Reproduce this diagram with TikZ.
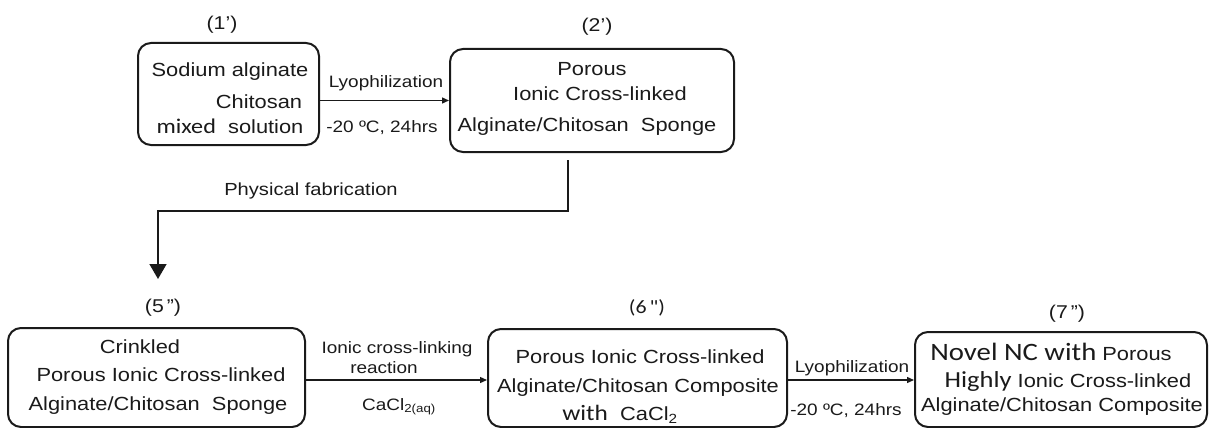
\documentclass[tikz,border=0pt]{standalone}
\usepackage{fontspec}
\setmainfont{Liberation Sans}[FakeStretch=1.15]
\newfontfamily\cb{Carlito}[FakeStretch=1.15]
\usetikzlibrary{arrows.meta}
\definecolor{ink}{HTML}{1A1A1A}
\begin{document}
\begin{tikzpicture}[x=1pt,y=-1pt,
  box/.style={draw=ink, line width=2pt, rounded corners=13pt, inner sep=0pt},
  txt/.style={inner sep=0pt, anchor=base, text=ink, font=\fontsize{19}{22}\selectfont},
  lbl/.style={inner sep=0pt, anchor=base, text=ink, font=\fontsize{16.5}{19}\selectfont},
  num/.style={inner sep=0pt, anchor=base, text=ink, font=\fontsize{18.5}{20}\selectfont},
  arr/.style={draw=ink, line width=1.3pt, -{Triangle[width=6pt,length=7pt]}},
  bigarr/.style={draw=ink, line width=1.5pt, -{Triangle[width=17pt,length=15pt]}}]
\useasboundingbox (0,0) rectangle (1210,428);
% boxes
\node[box, minimum width=181pt, minimum height=102pt] (b1) at (228.5,94) {};
\node[box, minimum width=284pt, minimum height=103pt] (b2) at (592,100.5) {};
\node[box, minimum width=297pt, minimum height=99pt] (b5) at (156.5,377.5) {};
\node[box, minimum width=299pt, minimum height=98pt] (b6) at (637.5,378) {};
\node[box, minimum width=292pt, minimum height=95pt] (b7) at (1061,379.5) {};
% numbers
\node[num] (n1) at (222,30) {(1')};
\node[num] (n2) at (597,32) {(2')};
\node[num] (n5) at (163,312) {(5\,")};
\node[num, font=\cb\fontsize{19}{20}\selectfont] (n6) at (647,313) {(6\,")};
\node[num] (n7) at (1067,318) {(7\,")};
% box 1
\node[txt] (t1a) at (230,77) {Sodium alginate};
\node[txt] (t1b) at (259,108) {Chitosan};
\node[txt] (t1c) at (230,133) {{\cb\fontsize{21}{22}\selectfont mixed}\ \ solution};
% box 2
\node[txt] (t2a) at (592,75) {Porous};
\node[txt] (t2b) at (600,100) {Ionic Cross-linked};
\node[txt] (t2c) at (587,131) {Alginate/Chitosan\ \ Sponge};
% box 5
\node[txt] (t5a) at (140,353) {Crinkled};
\node[txt] (t5b) at (161,381) {Porous Ionic Cross-linked};
\node[txt] (t5c) at (158,410) {Alginate/Chitosan\ \ Sponge};
% box 6
\node[txt] (t6a) at (640,363) {Porous Ionic Cross-linked};
\node[txt] (t6b) at (638,392) {Alginate/Chitosan Composite};
\node[txt] (t6c) at (620,420) {{\cb\fontsize{22}{22}\selectfont with}\ \ CaCl\textsubscript{2}};
% box 7
\node[txt] (t7a) at (1051,360) {{\cb\fontsize{25}{26}\selectfont Novel NC with}\ Porous};
\node[txt] (t7b) at (1068,387) {{\cb\fontsize{23}{24}\selectfont Highly}\ Ionic Cross-linked};
\node[txt] (t7c) at (1062,411) {Alginate/Chitosan Composite};
% arrows
\draw[arr] (b1.east |- b2.west) -- (b2.west);
\node[lbl] (l1a) at (386,88) {Lyophilization};
\node[lbl] (l1b) at (382,132) {-20 ºC, 24hrs};
\coordinate (ps) at (568,160);
\coordinate (pc) at (568,211);
\coordinate (pf) at (158,279);
\draw[bigarr] (ps) -- (pc) -| (pf);
\node[lbl, font=\fontsize{17.5}{19}\selectfont] (lpf) at (311,195) {Physical fabrication};
\draw[arr] (b5.east |- 0,380) -- (b6.west |- 0,380);
\node[lbl] (l5a) at (397,353) {Ionic cross-linking};
\node[lbl] (l5b) at (384,373) {reaction};
\node[lbl] (l5c) at (399,410) {CaCl\textsubscript{2(aq)}};
\draw[arr] (b6.east |- 0,380) -- (b7.west |- 0,380);
\node[lbl] (l6a) at (852,372) {Lyophilization};
\node[lbl] (l6b) at (846,415) {-20 ºC, 24hrs};
\end{tikzpicture}
\end{document}
